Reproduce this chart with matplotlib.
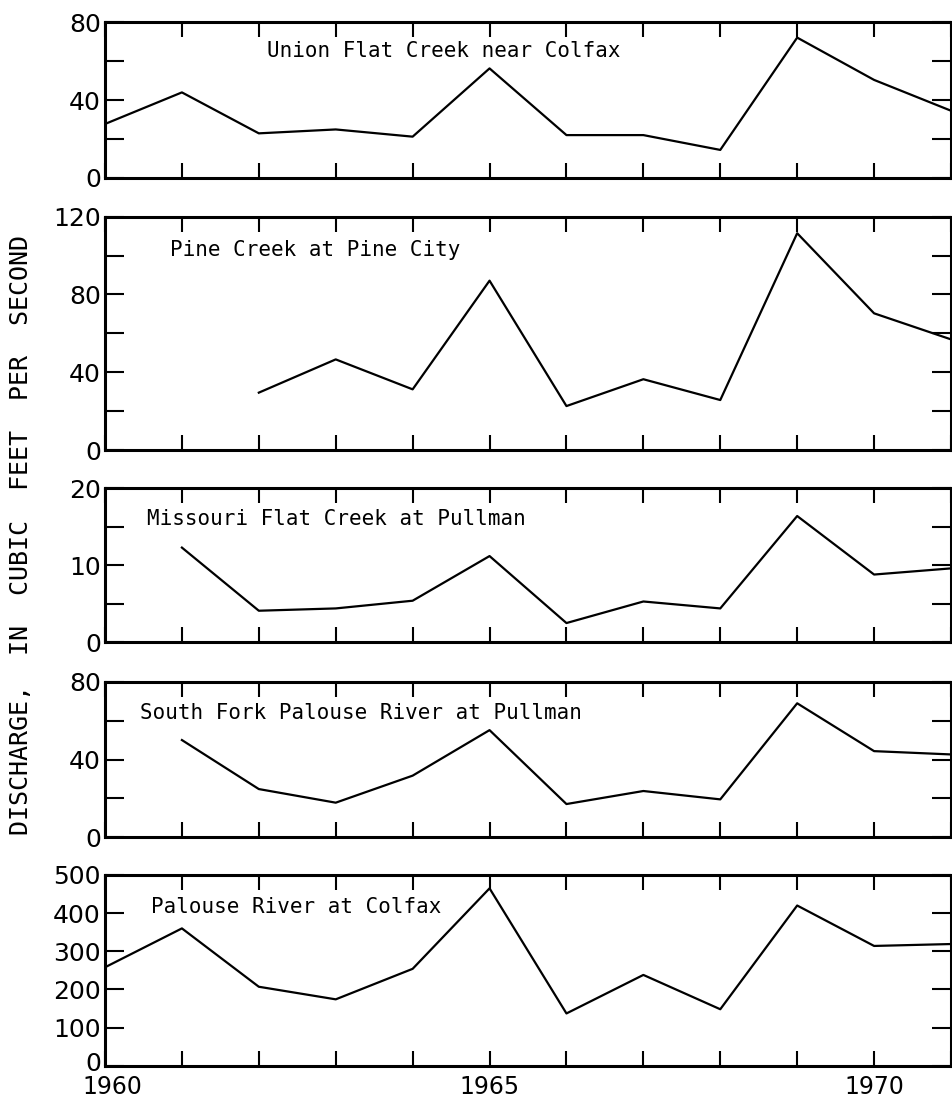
import numpy as np
import matplotlib
matplotlib.use("Agg")
import matplotlib.pyplot as plt
from matplotlib.transforms import ScaledTranslation

years = list(range(1960, 1972))

# mean annual discharge, cfs (nan = no record)
union_flat = [27.7, 43.9, 22.9, 24.9, 21.2, 56.2, 22.0, 22.0, 14.4, 72.0, 50.3, 34.5]
pine_creek = [np.nan, np.nan, 29.5, 46.6, 31.2, 87.1, 22.6, 36.4, 25.7, 111.5, 70.3, 56.9]
missouri_flat = [np.nan, 12.3, 4.1, 4.4, 5.4, 11.2, 2.5, 5.3, 4.4, 16.4, 8.8, 9.6]
south_fork = [np.nan, 50.0, 24.8, 17.8, 31.7, 55.1, 17.1, 23.8, 19.5, 68.9, 44.3, 42.6]
palouse_colfax = [258, 360, 207, 174, 254, 465, 137, 238, 148, 420, 314, 319]

names = ["Union Flat Creek near Colfax", "Pine Creek at Pine City",
         "Missouri Flat Creek at Pullman", "South Fork Palouse River at Pullman",
         "Palouse River at Colfax"]
series = [union_flat, pine_creek, missouri_flat, south_fork, palouse_colfax]
yticks = [[0, 20, 40, 60, 80], [0, 20, 40, 60, 80, 100, 120], [0, 5, 10, 15, 20],
          [0, 20, 40, 60, 80], [0, 100, 200, 300, 400, 500]]
ylabels = [["0", "", "40", "", "80"], ["0", "", "40", "", "80", "", "120"],
           ["0", "", "10", "", "20"], ["0", "", "40", "", "80"],
           ["0", "100", "200", "300", "400", "500"]]
# label anchor (year, value) for each panel title
label_pos = [(1962.1, 65.3), (1960.85, 102.9), (1960.55, 16.0), (1960.45, 64), (1960.6, 417)]

# axes boxes in pixels (top, bottom) on a 953x1101 canvas
boxes = [(22, 178), (216.7, 450), (488.3, 642.3), (681.7, 837.3), (875, 1065.7)]

W, H = 953, 1101
fig = plt.figure(figsize=(W / 100, H / 100), dpi=100)
plt.rcParams['font.family'] = ['DejaVu Sans']

left, right = 105 / W, 951 / W
for i, (top, bot) in enumerate(boxes):
    ax = fig.add_axes([left, 1 - bot / H, right - left, (bot - top) / H])
    ax.plot(years, series[i], color='black', lw=1.6)
    ax.set_xlim(1960, 1971)
    ax.set_ylim(yticks[i][0], yticks[i][-1])
    ax.set_yticks(yticks[i])
    ax.set_yticklabels(ylabels[i])
    ax.set_xticks(years)
    if i == 4:
        ax.set_xticklabels(["1960", "", "", "", "", "1965", "", "", "", "", "1970", ""])
    else:
        ax.set_xticklabels([])
    ax.tick_params(axis='x', direction='in', length=11, width=1.5, top=True,
                   labelsize=17, pad=7)
    ax.tick_params(axis='y', direction='in', length=14, width=1.5, right=True,
                   labelsize=18, pad=3)
    for s in ax.spines.values():
        s.set_linewidth(2.2)
    ax.text(label_pos[i][0], label_pos[i][1], names[i], ha='left', va='center',
            fontsize=15, family='DejaVu Sans Mono')
    if i == 4:
        # nudge the corner labels apart, as in the original drawing
        lab0 = ax.get_yticklabels()[0]
        lab0.set_transform(lab0.get_transform() + ScaledTranslation(0, 4 / 100, fig.dpi_scale_trans))
        labx = ax.get_xticklabels()[0]
        labx.set_transform(labx.get_transform() + ScaledTranslation(7 / 100, 0, fig.dpi_scale_trans))

fig.text(0.022, 1 - 535 / H, "DISCHARGE,  IN  CUBIC  FEET  PER  SECOND",
         rotation=90, ha='center', va='center', fontsize=18, family='DejaVu Sans Mono')

fig.savefig("out.png", dpi=100)
